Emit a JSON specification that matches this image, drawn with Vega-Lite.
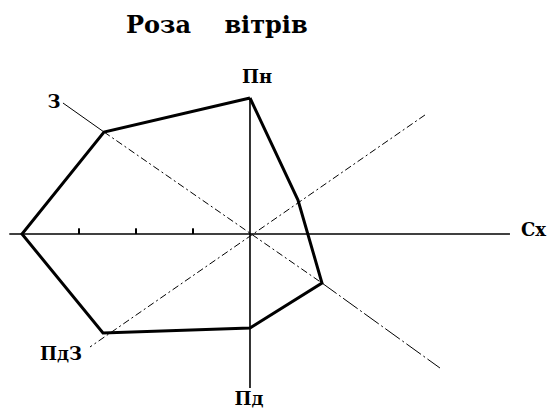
{
  "$schema": "https://vega.github.io/schema/vega-lite/v6.json",
  "width": 549,
  "height": 409,
  "padding": 0,
  "autosize": {"type": "none"},
  "background": "white",
  "config": {"view": {"stroke": null}},
  "datasets": {
    "rose": [
      {"dir": "Пн", "i": 0, "x": 0.0, "y": 2.386},
      {"dir": "ПнСх", "i": 1, "x": 0.842, "y": 0.596},
      {"dir": "ПдСх", "i": 2, "x": 1.263, "y": -0.86},
      {"dir": "Пд", "i": 3, "x": 0.0, "y": -1.649},
      {"dir": "ПдЗ", "i": 4, "x": -2.579, "y": -1.737},
      {"dir": "З", "i": 5, "x": -4.0, "y": 0.0},
      {"dir": "ПнЗ", "i": 6, "x": -2.561, "y": 1.789},
      {"dir": "Пн", "i": 7, "x": 0.0, "y": 2.386}
    ],
    "axes": [
      {"seg": "h", "i": 0, "x": -4.223, "y": 0},
      {"seg": "h", "i": 1, "x": 4.561, "y": 0},
      {"seg": "v", "i": 0, "x": 0, "y": 2.386},
      {"seg": "v", "i": 1, "x": 0, "y": -2.702}
    ],
    "diagSolid": [
      {"seg": "nw", "i": 0, "x": -3.281, "y": 2.298},
      {"seg": "nw", "i": 1, "x": -2.561, "y": 1.789}
    ],
    "diagDash": [
      {"seg": "nwse", "i": 0, "x": -2.561, "y": 1.789},
      {"seg": "nwse", "i": 1, "x": 1.263, "y": -0.86},
      {"seg": "nesw", "i": 0, "x": 3.07, "y": 2.088},
      {"seg": "nesw", "i": 1, "x": -2.807, "y": -1.982}
    ],
    "diagLong": [
      {"seg": "se", "i": 0, "x": 1.263, "y": -0.86},
      {"seg": "se", "i": 1, "x": 3.333, "y": -2.351}
    ],
    "ticks": [
      {"x": -1, "y": 0, "y2": 0.1},
      {"x": -2, "y": 0, "y2": 0.1},
      {"x": -3, "y": 0, "y2": 0.1}
    ],
    "labels": [
      {"label": "Пн", "x": 0.123, "y": 2.737},
      {"label": "Сх", "x": 4.974, "y": 0.053},
      {"label": "Пд", "x": -0.018, "y": -2.912},
      {"label": "ПдЗ", "x": -3.316, "y": -2.123},
      {"label": "З", "x": -3.439, "y": 2.298}
    ],
    "title": [
      {"label": "Роза", "x": -1.605, "y": 3.526},
      {"label": "вітрів", "x": 0.281, "y": 3.526}
    ]
  },
  "encoding": {
    "x": {"field": "x", "type": "quantitative", "scale": {"domain": [-4.386, 5.246], "nice": false, "zero": false}, "axis": null},
    "y": {"field": "y", "type": "quantitative", "scale": {"domain": [-3.07, 4.105], "nice": false, "zero": false}, "axis": null}
  },
  "layer": [
    {
      "data": {"name": "axes"},
      "mark": {"type": "line", "color": "black", "strokeWidth": 1.6},
      "encoding": {"detail": {"field": "seg"}, "order": {"field": "i"}}
    },
    {
      "data": {"name": "diagSolid"},
      "mark": {"type": "line", "color": "black", "strokeWidth": 1},
      "encoding": {"detail": {"field": "seg"}, "order": {"field": "i"}}
    },
    {
      "data": {"name": "diagDash"},
      "mark": {"type": "line", "color": "black", "strokeWidth": 1, "strokeDash": [7, 3, 2, 3]},
      "encoding": {"detail": {"field": "seg"}, "order": {"field": "i"}}
    },
    {
      "data": {"name": "diagLong"},
      "mark": {"type": "line", "color": "black", "strokeWidth": 1, "strokeDash": [18, 3, 2, 3]},
      "encoding": {"detail": {"field": "seg"}, "order": {"field": "i"}}
    },
    {
      "data": {"name": "ticks"},
      "mark": {"type": "rule", "color": "black", "strokeWidth": 2},
      "encoding": {"y2": {"field": "y2"}}
    },
    {
      "data": {"name": "rose"},
      "mark": {"type": "line", "color": "black", "strokeWidth": 3, "strokeJoin": "miter"},
      "encoding": {"order": {"field": "i"}}
    },
    {
      "data": {"name": "labels"},
      "mark": {"type": "text", "font": "DejaVu Serif", "fontWeight": "bold", "fontSize": 18, "align": "center", "baseline": "middle", "color": "black"},
      "encoding": {"text": {"field": "label"}}
    },
    {
      "data": {"name": "title"},
      "mark": {"type": "text", "font": "DejaVu Serif", "fontWeight": "bold", "fontSize": 24, "align": "center", "baseline": "alphabetic", "color": "black"},
      "encoding": {"text": {"field": "label"}}
    }
  ]
}
